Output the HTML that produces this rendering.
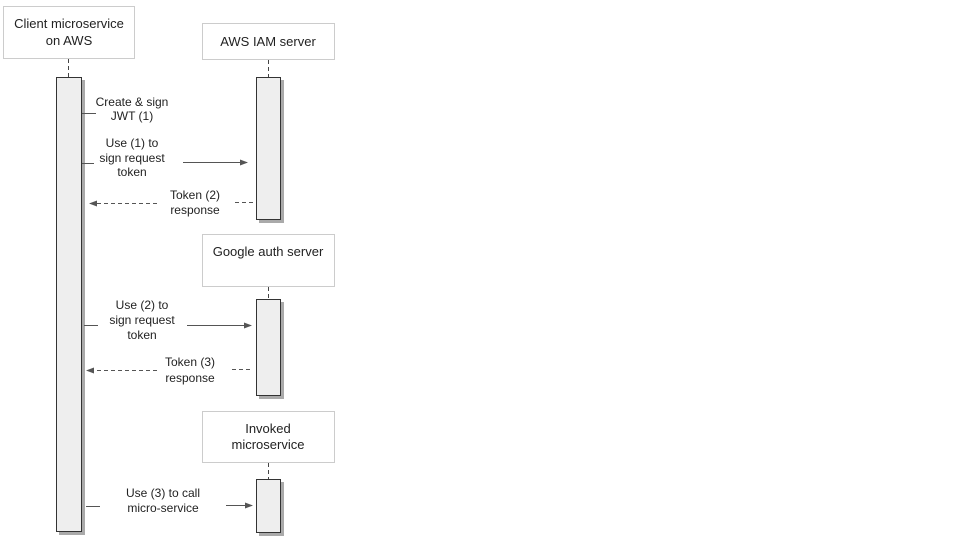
<!DOCTYPE html>
<html><head><style>
body{margin:0;background:#fff}
svg{display:block}
text{font-family:"Liberation Sans",Arial,sans-serif;font-size:12px;fill:#222;text-anchor:middle}
.big{font-size:13px}
</style></head><body>
<svg width="960" height="540" viewBox="0 0 960 540">
<defs>
<marker id="a" markerWidth="8" markerHeight="6" refX="7" refY="3" orient="auto" markerUnits="userSpaceOnUse"><path d="M0,0L8,3L0,6z" fill="#555"/></marker>
</defs>
<g fill="#fff" stroke="#ccc">
<rect x="3.5" y="6.5" width="131" height="52"/>
<rect x="202.5" y="23.5" width="132" height="36"/>
<rect x="202.5" y="234.5" width="132" height="52"/>
<rect x="202.5" y="411.5" width="132" height="51"/>
</g>
<text class="big" x="69" y="28">Client microservice</text>
<text class="big" x="69" y="45">on AWS</text>
<text class="big" x="268" y="46">AWS IAM server</text>
<text class="big" x="268" y="256">Google auth server</text>
<text class="big" x="268" y="433">Invoked</text>
<text class="big" x="268" y="449">microservice</text>
<g stroke="#444" stroke-dasharray="4,3">
<line x1="68.5" y1="59" x2="68.5" y2="77"/>
<line x1="268.5" y1="60" x2="268.5" y2="77"/>
<line x1="268.5" y1="287" x2="268.5" y2="299"/>
<line x1="268.5" y1="463" x2="268.5" y2="479"/>
</g>
<g fill="#aaa">
<rect x="59" y="80" width="26" height="455"/>
<rect x="259" y="80" width="25" height="143"/>
<rect x="259" y="302" width="25" height="97"/>
<rect x="259" y="482" width="25" height="54"/>
</g>
<g fill="#eee" stroke="#333">
<rect x="56.5" y="77.5" width="25" height="454"/>
<rect x="256.5" y="77.5" width="24" height="142"/>
<rect x="256.5" y="299.5" width="24" height="96"/>
<rect x="256.5" y="479.5" width="24" height="53"/>
</g>
<g stroke="#555">
<line x1="82" y1="113.5" x2="96" y2="113.5"/>
<line x1="82" y1="163.5" x2="94" y2="163.5"/>
<line x1="183" y1="162.5" x2="247" y2="162.5" marker-end="url(#a)"/>
<line x1="84" y1="325.5" x2="98" y2="325.5"/>
<line x1="187" y1="325.5" x2="251" y2="325.5" marker-end="url(#a)"/>
<line x1="86" y1="506.5" x2="100" y2="506.5"/>
<line x1="226" y1="505.5" x2="252" y2="505.5" marker-end="url(#a)"/>
</g>
<g stroke="#555" stroke-dasharray="4,3">
<line x1="157" y1="203.5" x2="90" y2="203.5" marker-end="url(#a)"/>
<line x1="235" y1="202.5" x2="256" y2="202.5"/>
<line x1="157" y1="370.5" x2="87" y2="370.5" marker-end="url(#a)"/>
<line x1="232" y1="369.5" x2="252" y2="369.5"/>
</g>
<text x="132" y="106">Create &amp; sign</text>
<text x="132" y="120">JWT (1)</text>
<text x="132" y="147">Use (1) to</text>
<text x="132" y="162">sign request</text>
<text x="132" y="176">token</text>
<text x="195" y="199">Token  (2)</text>
<text x="195" y="214">response</text>
<text x="142" y="309">Use (2) to</text>
<text x="142" y="324">sign request</text>
<text x="142" y="339">token</text>
<text x="190" y="366">Token  (3)</text>
<text x="190" y="382">response</text>
<text x="163" y="497">Use (3) to call</text>
<text x="163" y="512">micro-service</text>
</svg>
</body></html>
